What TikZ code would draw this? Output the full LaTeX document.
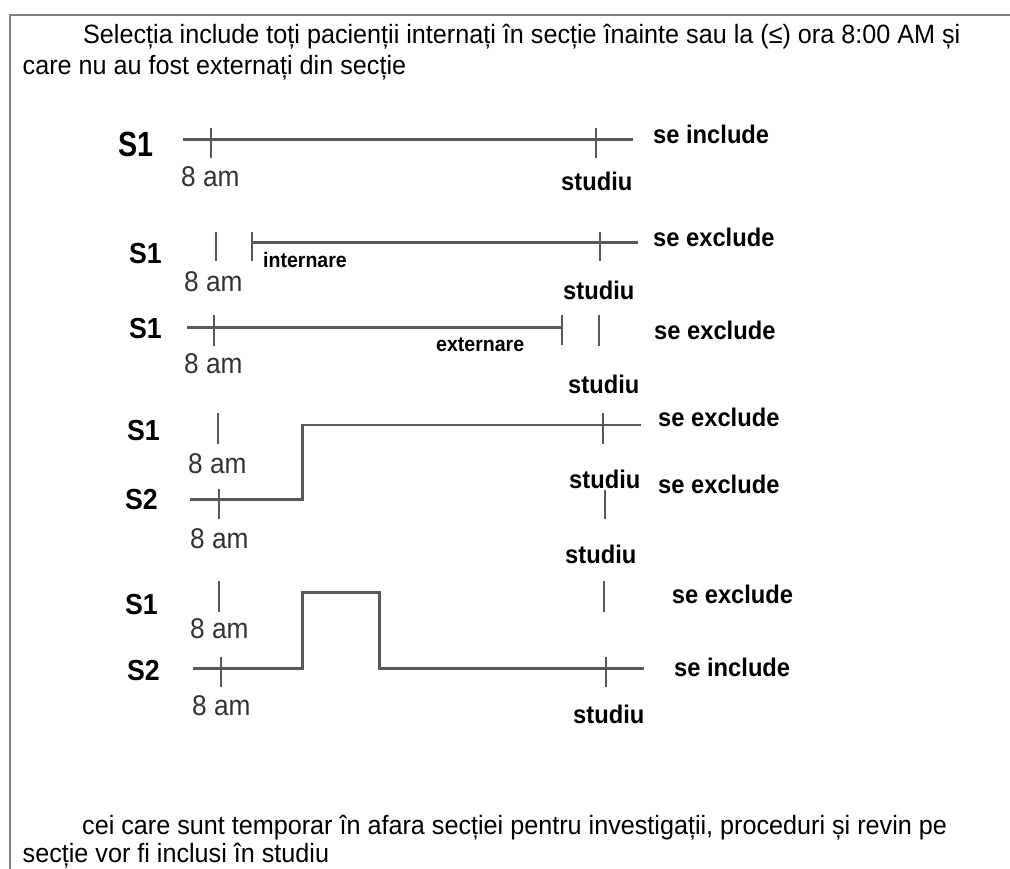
\documentclass[tikz,border=0pt]{standalone}
\usepackage{fontspec}
\setmainfont{Liberation Sans}
\newfontfamily\bodyfont[FakeStretch=0.95]{Liberation Sans}
\newfontfamily\labfont[FakeStretch=0.92]{Liberation Sans}
\newfontfamily\biglabfont[FakeStretch=0.82]{Liberation Sans}
\newfontfamily\resfont[FakeStretch=0.93]{Liberation Sans}
\newcommand\tickmark[3]{\draw[tk] (#1,#2) -- (#1,#3);}
\tikzset{
  txt/.style={inner sep=0, anchor=base west, font=\bodyfont\fontsize{26.5}{31}\selectfont},
  amlab/.style={inner sep=0, anchor=base west, text=black!80, font=\labfont\fontsize{28.5}{32}\selectfont},
  slab/.style={inner sep=0, anchor=base west, font=\labfont\bfseries\fontsize{29}{32}\selectfont},
  bigslab/.style={inner sep=0, anchor=base west, font=\biglabfont\bfseries\fontsize{35}{38}\selectfont},
  res/.style={inner sep=0, anchor=base west, font=\resfont\bfseries\fontsize{25.5}{28}\selectfont},
  smalllab/.style={inner sep=0, anchor=base west, font=\resfont\bfseries\fontsize{21}{24}\selectfont},
  tl/.style={draw=black!65, line width=2.5pt},
  tk/.style={draw=black!65, line width=2pt},
  frame/.style={draw=black!50, line width=2pt}
}
\begin{document}
\begin{tikzpicture}[x=1pt,y=-1pt]
\useasboundingbox (0,0) rectangle (1010,869);
% frame
\coordinate (fa) at (1010,15);
\coordinate (fb) at (9.5,15);
\coordinate (fc) at (9.5,869);
\draw[frame] (fa) -- (fb) -- (fc);
% top and bottom text
\node[txt] (t1) at (83,44) {Selecția include toți pacienții internați în secție înainte sau la (≤) ora 8:00 AM și};
\node[txt] (t2) at (22.5,75) {care nu au fost externați din secție};
\node[txt] (b1) at (82,834) {cei care sunt temporar în afara secției pentru investigații, proceduri și revin pe};
\node[txt] (b2) at (22.5,862) {secție vor fi inclusi în studiu};
% Row 1
\node[bigslab] (r1s) at (118,157) {S1};
\coordinate (r1a) at (183,139.5);
\coordinate (r1b) at (633,139.5);
\draw[tl] (r1a) -- (r1b);
\tickmark{211}{128}{158}
\tickmark{596}{128}{158}
\node[amlab] (r1am) at (181,187) {8 am};
\node[res] (r1st) at (561,191) {studiu};
\node[res] (r1r) at (653,144) {se include};
% Row 2
\node[slab] (r2s) at (129,264) {S1};
\tickmark{215.7}{231.7}{260.7}
\tickmark{251.7}{231.7}{260.7}
\coordinate (r2a) at (251.7,242.7);
\coordinate (r2b) at (638,242.7);
\draw[tl] (r2a) -- (r2b);
\tickmark{600}{231.7}{260.7}
\node[smalllab] (r2in) at (263,268) {internare};
\node[amlab] (r2am) at (184,291) {8 am};
\node[res] (r2st) at (563,300) {studiu};
\node[res] (r2r) at (653,247) {se exclude};
% Row 3
\node[slab] (r3s) at (129,338) {S1};
\coordinate (r3a) at (186.7,327.7);
\coordinate (r3b) at (561.7,327.7);
\draw[tl] (r3a) -- (r3b);
\tickmark{214.3}{315}{346}
\tickmark{561.7}{315}{345}
\tickmark{599}{315}{346}
\node[amlab] (r3am) at (184,373) {8 am};
\node[smalllab] (r3ex) at (436,352) {externare};
\node[res] (r3r) at (654,339) {se exclude};
\node[res] (r3st) at (568,393) {studiu};
% Row 4
\node[slab] (r4s1) at (127,440) {S1};
\tickmark{217.7}{413}{444}
\node[amlab] (r4am1) at (188,473) {8 am};
\node[slab] (r4s2) at (125,509) {S2};
\coordinate (r4a) at (190,499.3);
\coordinate (r4b) at (302.3,499.3);
\coordinate (r4c) at (302.3,425);
\coordinate (r4d) at (640.7,425);
\draw[tl] (r4a) -- (r4b) -- (r4c) -- (r4d);
\tickmark{219}{489}{519}
\node[amlab] (r4am2) at (190,548) {8 am};
\tickmark{603.3}{413}{444}
\node[res] (r4r1) at (658,426) {se exclude};
\node[res] (r4st1) at (569,488) {studiu};
\node[res] (r4r2) at (658,493) {se exclude};
\tickmark{605}{490}{519}
\node[res] (r4st2) at (565,563) {studiu};
% Row 5
\node[slab] (r5s1) at (125,614) {S1};
\tickmark{219}{581}{612}
\node[amlab] (r5am1) at (190,638) {8 am};
\node[slab] (r5s2) at (127,680) {S2};
\coordinate (r5a) at (193,668.3);
\coordinate (r5b) at (302.3,668.3);
\coordinate (r5c) at (302.3,592.7);
\coordinate (r5d) at (379.3,592.7);
\coordinate (r5e) at (379.3,668.3);
\coordinate (r5f) at (644,668.3);
\draw[tl] (r5a) -- (r5b) -- (r5c) -- (r5d) -- (r5e) -- (r5f);
\tickmark{220.7}{656.7}{686.7}
\node[amlab] (r5am2) at (192,715) {8 am};
\tickmark{604}{581}{612}
\tickmark{606}{657}{687}
\node[res] (r5r1) at (671.7,603) {se exclude};
\node[res] (r5r2) at (674,676) {se include};
\node[res] (r5st) at (573,723) {studiu};
\end{tikzpicture}
\end{document}
